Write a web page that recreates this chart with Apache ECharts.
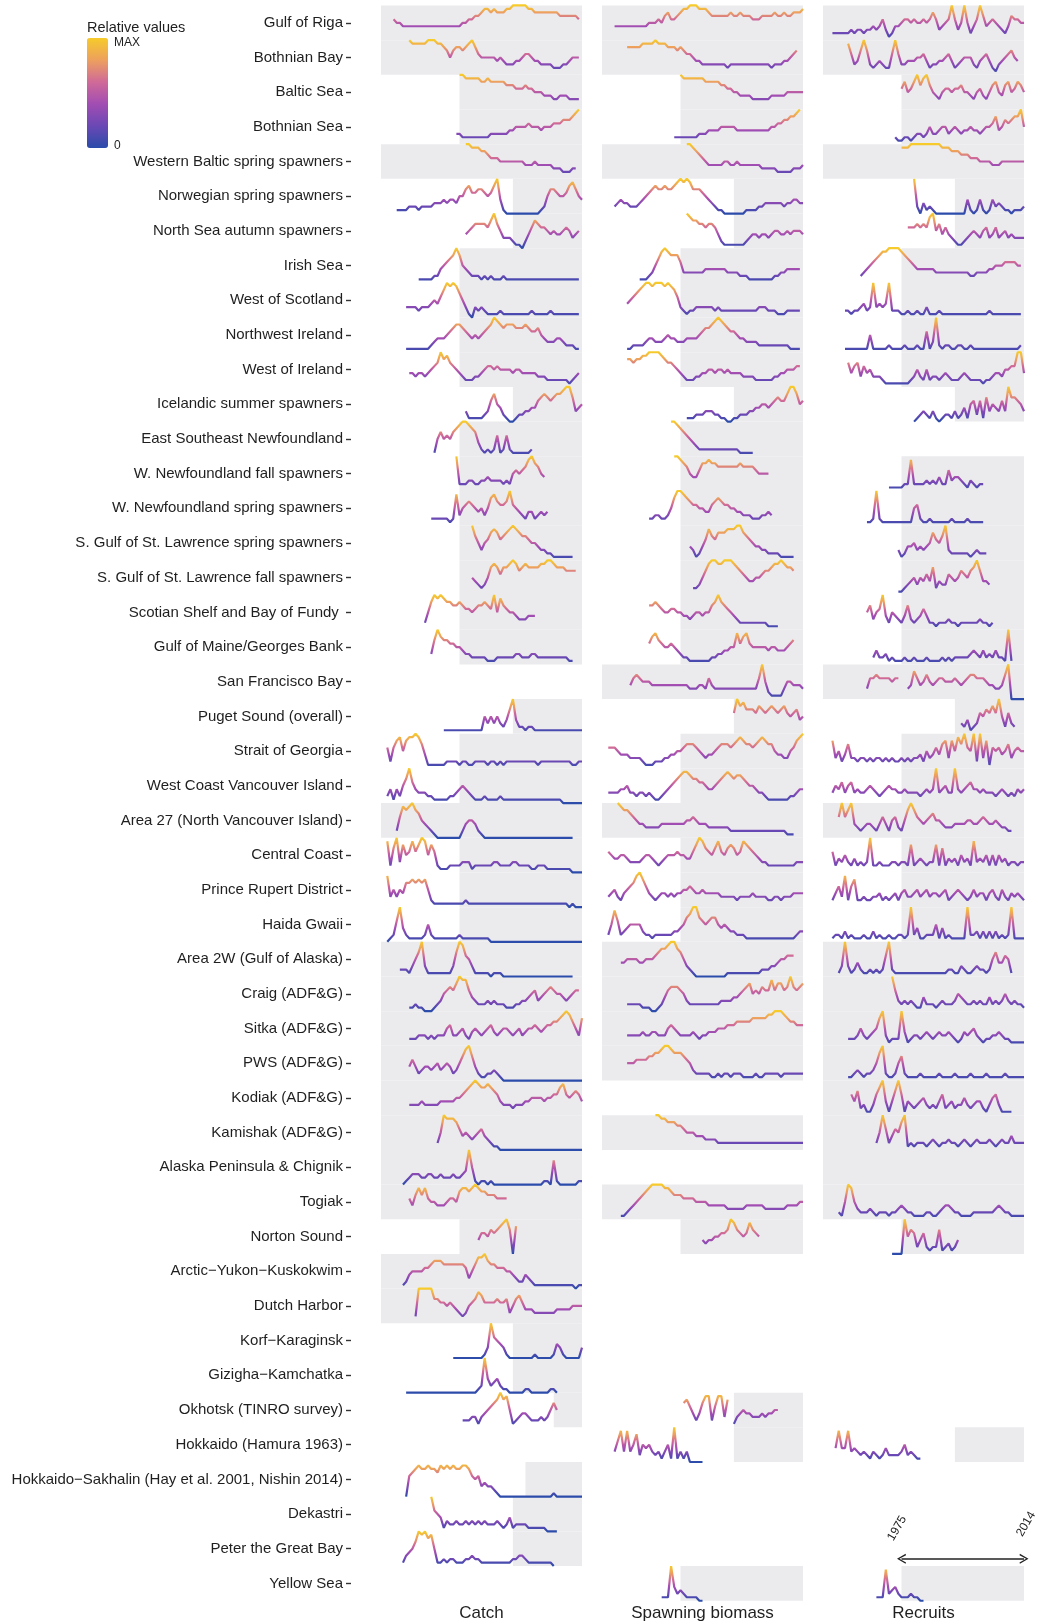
<!DOCTYPE html>
<html>
<head>
<meta charset="utf-8">
<title>Herring stocks - relative catch, spawning biomass and recruits</title>
<script src="https://cdn.jsdelivr.net/npm/echarts@6/dist/echarts.min.js"></script>
<style>
  html, body { margin: 0; padding: 0; background: #fff; }
  #chart { width: 1040px; height: 1623px; }
</style>
</head>
<body>
<div id="chart"></div>
<script>
// stock names, top to bottom
const stocks = [
  'Gulf of Riga', 'Bothnian Bay', 'Baltic Sea', 'Bothnian Sea', 'Western Baltic spring spawners',
  'Norwegian spring spawners', 'North Sea autumn spawners', 'Irish Sea', 'West of Scotland',
  'Northwest Ireland', 'West of Ireland', 'Icelandic summer spawners', 'East Southeast Newfoundland',
  'W. Newfoundland fall spawners', 'W. Newfoundland spring spawners', 'S. Gulf of St. Lawrence spring spawners',
  'S. Gulf of St. Lawrence fall spawners', 'Scotian Shelf and Bay of Fundy ', 'Gulf of Maine/Georges Bank',
  'San Francisco Bay', 'Puget Sound (overall)', 'Strait of Georgia', 'West Coast Vancouver Island',
  'Area 27 (North Vancouver Island)', 'Central Coast', 'Prince Rupert District', 'Haida Gwaii',
  'Area 2W (Gulf of Alaska)', 'Craig (ADF&G)', 'Sitka (ADF&G)', 'PWS (ADF&G)', 'Kodiak (ADF&G)',
  'Kamishak (ADF&G)', 'Alaska Peninsula & Chignik', 'Togiak', 'Norton Sound', 'Arctic\u2212Yukon\u2212Kuskokwim',
  'Dutch Harbor', 'Korf\u2212Karaginsk', 'Gizigha\u2212Kamchatka', 'Okhotsk (TINRO survey)', 'Hokkaido (Hamura 1963)',
  'Hokkaido\u2212Sakhalin (Hay et al. 2001, Nishin 2014)', 'Dekastri', 'Peter the Great Bay', 'Yellow Sea'
];
const columnTitles = ['Catch', 'Spawning biomass', 'Recruits'];
const arrowYears = [1975, 2014];

// relative values 0..10 (10 = MAX), annual, [first year, values]
const catchSeries = [
  [1954, [6,5,5,4,4,4,4,4,4,4,4,4,4,4,4,4,4,4,4,4,4,4,5,5,6,6,7,7,8,9,9,8,9,8,8,8,9,9,10,10,10,10,10,9,9,8,8,8,8,8,8,8,8,7,7,7,7,7,7,6]],
  [1959, [10,9,9,9,9,9,10,10,10,9,9,8,7,5,7,8,8,7,8,9,10,8,6,5,5,5,5,5,4,5,4,3,3,3,4,4,5,6,6,5,4,4,3,3,3,3,2,2,2,3,3,4,5,5,5]],
  [1975, [10,10,9,9,9,9,9,8,8,9,8,8,8,8,8,7,7,7,6,6,6,7,6,6,5,5,5,4,4,4,3,3,4,4,4,3,3,3,3]],
  [1974, [3,3,2,2,2,2,2,2,2,2,2,3,3,3,3,3,3,4,4,5,5,5,5,6,5,5,5,4,5,5,5,6,6,6,7,7,7,8,9,10]],
  [1977, [10,10,9,9,9,8,8,7,6,6,6,5,5,5,5,5,5,5,5,4,4,4,5,4,4,4,4,4,3,3,3,2,2,2,3,3]],
  [1955, [1,1,1,1,2,2,2,1,2,2,2,2,3,3,3,4,3,4,4,3,5,5,7,8,6,6,7,7,6,5,6,8,10,4,1,0,0,0,0,0,0,0,0,0,0,0,1,2,5,7,7,6,5,5,6,8,9,7,5,4]],
  [1977, [4,5,6,7,7,7,7,6,8,10,7,5,3,3,3,2,1,1,0,2,4,6,8,7,6,6,5,4,5,4,4,5,6,5,3,4,5]],
  [1962, [1,1,1,1,1,2,2,4,5,6,7,8,10,8,5,4,3,2,2,2,1,2,1,2,1,1,1,2,1,1,1,1,1,1,1,1,1,1,1,1,1,1,1,1,1,1,1,1,1,1,1,1]],
  [1958, [3,3,3,3,2,3,3,3,4,5,4,6,8,10,9,10,9,7,5,3,1,0,3,2,3,2,1,1,1,1,2,1,1,1,1,1,1,1,1,1,2,1,1,1,1,1,2,1,1,1,1,1,1,1,1,1]],
  [1958, [1,1,1,1,1,1,1,1,2,3,4,4,4,5,6,7,8,8,7,6,5,4,5,4,5,6,7,8,10,9,8,7,8,8,8,7,7,7,8,7,6,6,7,5,4,3,3,3,4,4,3,2,2,2,1,1]],
  [1959, [4,4,3,4,4,3,4,5,6,7,10,8,9,7,6,5,4,3,2,2,2,3,3,4,5,6,6,5,6,5,5,5,5,4,5,5,4,4,4,4,4,3,3,3,2,2,2,2,2,2,2,1,2,3,4]],
  [1977, [3,1,1,1,1,1,2,3,6,8,5,4,2,1,0,0,1,2,2,3,3,4,4,6,7,8,7,6,7,8,8,9,10,10,7,3,4,5]],
  [1967, [1,5,7,5,6,5,7,8,9,10,10,9,8,7,4,2,1,2,1,2,6,1,2,6,2,1,1,1,1,1,1,2]],
  [1974, [10,2,2,2,3,3,2,2,3,3,4,3,3,3,3,2,3,2,5,6,5,6,7,9,10,8,7,5,4]],
  [1966, [2,2,2,2,2,2,1,2,9,3,5,6,7,6,5,4,5,3,5,8,9,7,6,6,7,10,6,5,4,3,2,4,4,2,3,4,3,4]],
  [1979, [10,7,5,3,5,6,8,9,8,6,7,8,9,10,9,8,7,7,6,5,5,4,3,3,2,2,1,1,1,1,1,1,1]],
  [1979, [5,4,3,2,3,5,8,9,8,6,8,8,9,10,9,7,8,9,8,8,8,8,9,9,10,10,9,8,8,8,7,7,7,7]],
  [1964, [2,5,8,10,9,10,9,8,8,7,7,8,7,6,6,5,6,7,7,8,7,6,10,5,9,7,6,5,5,4,3,3,3,4,4,4]],
  [1966, [3,7,10,8,7,7,6,6,5,5,4,3,3,2,2,2,2,2,1,1,1,2,2,2,2,2,2,3,3,2,2,2,3,3,2,2,2,2,2,2,2,2,2,2,1,1]],
  null,
  [1970, [1,1,1,1,1,1,1,1,1,1,1,1,1,5,3,5,3,5,3,2,4,7,10,4,2,2,1,2,2,1,1,1,1,1,1,1,1,1,1,1,1,1,1,1,1]],
  [1952, [6,2,6,8,9,5,8,9,9,10,9,7,4,1,1,1,1,1,1,2,2,2,2,1,2,2,1,1,2,2,2,2,1,2,2,1,2,1,2,2,2,2,2,2,2,2,2,2,1,2,2,2,2,2,2,2,2,2,2,1,1,2,2]],
  [1952, [2,4,1,4,2,5,7,10,6,4,3,3,3,2,2,1,1,1,1,1,2,2,3,4,5,4,3,2,1,1,1,2,1,1,1,1,2,1,1,1,1,1,1,1,1,1,1,1,1,1,1,1,1,1,1,1,0,0,0,0,0,0,0]],
  [1955, [2,6,9,8,9,10,8,7,5,4,3,2,1,0,0,0,0,0,0,0,0,2,4,5,5,4,2,1,0,0,0,0,0,0,0,0,0,0,0,0,0,0,0,0,0,0,0,0,0,0,0,0,0,0,0,0,0]],
  [1952, [9,2,7,10,3,8,5,6,9,6,8,10,9,5,8,6,2,1,1,1,2,2,2,2,3,3,3,1,2,2,2,2,2,2,3,3,2,2,2,2,3,3,2,2,2,2,1,1,2,2,2,1,1,1,1,1,1,1,1,0,0,0,0]],
  [1952, [9,3,5,3,5,4,7,7,8,7,8,7,8,5,2,1,1,1,1,1,1,1,1,1,1,2,1,1,1,1,1,1,1,1,1,1,1,1,1,1,1,1,1,1,1,1,1,1,1,1,1,1,1,1,1,1,1,1,0,1,0,0,0]],
  [1952, [0,1,2,6,10,4,2,1,1,1,1,1,2,5,2,1,1,1,1,1,1,1,1,2,1,1,1,1,1,1,1,1,1,0,0,0,0,0,0,0,0,0,0,0,0,0,0,0,0,0,0,0,0,0,0,0,0,0,0,0,0,0,0]],
  [1956, [2,2,2,1,3,5,7,10,3,1,1,1,1,1,1,1,1,3,7,10,9,6,5,3,1,1,1,1,1,0,1,1,1,0,0,0,0,0,0,0,0,0,0,0,0,0,0,0,0,0,0,0,0,0,0,0]],
  [1959, [1,1,2,1,1,0,0,0,1,2,3,5,6,7,6,8,10,9,9,6,4,3,2,2,2,3,2,3,2,2,2,1,1,1,2,2,3,3,4,5,6,3,4,5,6,7,6,5,5,4,3,4,5,6,6]],
  [1959, [2,2,2,3,3,3,2,3,2,3,3,3,5,6,3,3,4,5,3,2,4,5,4,3,4,5,6,4,3,4,5,5,4,3,4,5,3,4,5,5,6,5,4,5,6,6,7,7,8,9,10,9,7,5,3,8]],
  [1959, [4,6,4,2,3,4,4,3,4,5,3,4,5,4,2,3,5,7,9,10,7,4,2,1,1,2,2,3,2,1,0,0,0,0,0,0,0,0,0,0,0,0,0,0,0,0,0,0,0,0,0,0,0,0,0,0]],
  [1959, [3,3,3,3,4,3,3,3,3,3,4,4,4,4,4,5,5,6,7,8,9,10,9,8,8,9,8,7,6,4,3,3,3,2,3,3,3,4,4,5,5,5,5,4,5,5,6,6,8,9,6,5,6,7,6,4]],
  [1968, [2,5,10,9,9,9,8,6,4,5,4,3,4,5,6,4,3,2,1,1,0,0,0,0,0,0,0,0,0,0,0,0,0,0,0,0,0,0,0,0,0,0,0,0,0,0,0]],
  [1957, [0,1,2,3,3,3,2,2,3,3,2,2,3,2,2,2,3,2,2,3,4,10,5,1,0,1,1,0,1,0,0,0,0,0,0,0,0,0,0,0,0,0,0,0,0,1,1,0,7,1,0,0,0,0,0,0,1,1]],
  [1959, [6,4,7,9,7,9,6,5,5,4,4,4,5,6,6,5,8,9,9,8,9,10,9,8,8,7,7,7,6,6,6,6]],
  [1981, [4,6,6,5,7,6,7,8,9,10,7,0,8]],
  [1957, [1,2,4,5,5,5,5,6,6,7,8,8,8,7,7,7,7,7,7,7,6,3,5,7,9,9,10,8,7,7,6,6,6,5,5,4,3,2,2,4,3,2,1,1,1,1,1,1,1,1,1,1,1,1,1,0,1,1]],
  [1961, [2,10,10,10,10,10,7,7,6,6,5,6,5,4,3,2,3,5,6,7,9,8,6,6,6,6,7,6,6,7,3,5,7,8,6,4,4,4,3,3,3,3,3,3,3,4,4,4,4,4,5,5,5,5]],
  [1973, [0,0,0,0,0,0,0,0,0,0,1,3,10,6,5,4,3,1,0,0,0,0,0,0,0,0,1,0,0,0,0,0,1,4,3,1,0,0,0,0,0,3]],
  [1958, [0,0,0,0,0,0,0,0,0,0,0,0,0,0,0,0,0,0,0,0,0,0,0,1,2,10,4,2,3,4,2,1,1,0,0,0,0,0,1,1,0,0,0,0,0,0,1,1,0]],
  [1976, [2,2,2,3,3,1,3,4,5,6,7,8,10,8,9,5,1,2,3,4,4,3,2,2,2,3,2,3,5,7,5]],
  null,
  [1958, [0,6,7,8,9,8,8,9,8,8,7,9,8,9,8,9,8,8,9,9,8,6,5,6,3,4,3,3,2,1,0,0,0,0,0,0,0,0,0,0,0,0,0,0,0,0,0,1,0,0,0,0,0,0,0,0,0]],
  [1966, [10,6,5,4,1,3,2,2,3,2,2,3,2,3,2,3,2,3,2,2,2,3,2,1,2,4,1,2,2,2,2,1,1,1,1,1,1,0,0,0,0]],
  [1957, [1,3,4,5,7,10,9,10,8,9,5,1,1,2,1,2,2,1,1,1,2,2,3,2,2,1,1,1,1,1,1,1,1,1,1,2,2,3,3,2,1,1,1,1,1,1,1,1,0]],
  null
];

const biomassSeries = [
  [1954, [4,4,4,4,4,4,4,4,4,4,4,5,5,5,6,5,7,8,6,6,7,8,9,9,10,10,10,9,9,9,8,7,7,7,7,7,7,8,7,7,8,7,7,7,6,6,6,7,7,7,7,8,7,7,8,7,7,8,8,8,9]],
  [1958, [8,8,8,8,8,9,9,9,9,10,9,9,9,8,8,8,7,8,7,6,6,5,4,4,3,3,3,3,3,3,3,3,2,3,3,3,3,3,3,3,3,3,3,3,3,3,2,3,3,3,4,4,5,6,7]],
  [1975, [10,9,9,9,9,9,9,9,8,8,8,8,8,7,7,6,6,5,5,4,4,4,4,3,3,3,3,3,3,4,4,4,4,4,5,5,5,5,5,5]],
  [1973, [2,2,2,2,2,2,2,2,3,3,3,4,4,4,4,5,5,5,5,5,4,4,4,4,4,4,4,4,4,4,4,5,5,6,6,7,7,8,8,9,10]],
  [1977, [10,10,9,8,7,6,5,4,4,4,4,4,5,5,4,4,5,4,4,4,4,4,4,4,3,3,3,3,3,2,2,2,2,2,3,3,3,4]],
  [1954, [2,3,4,3,3,2,2,2,3,4,5,6,7,8,7,7,8,7,7,8,9,10,9,10,9,7,7,7,6,5,4,3,2,1,1,0,0,0,0,0,0,0,1,1,1,1,2,2,3,3,3,3,3,3,2,3,3,4,4,3,3]],
  [1977, [10,9,8,8,7,7,6,7,7,6,4,2,1,1,1,1,1,1,1,2,3,4,4,3,4,4,3,4,5,5,4,4,5,4,5,5,5,4]],
  [1962, [1,1,1,2,3,5,7,9,10,9,8,8,8,6,3,3,3,3,3,3,3,4,4,4,4,4,4,4,3,3,3,3,2,2,2,1,1,1,1,1,1,1,1,2,2,3,3,4,4,4,4,4]],
  [1958, [4,5,6,7,8,9,10,10,9,10,10,10,9,10,9,8,6,3,2,1,2,2,3,3,3,3,3,3,2,3,2,2,2,2,2,2,2,2,2,2,2,2,3,3,3,2,2,2,1,1,1,2,2,2,2,2]],
  [1958, [1,1,2,2,2,2,3,4,4,3,3,3,4,5,4,4,3,3,3,4,4,4,4,5,6,7,7,8,9,10,9,8,7,6,6,5,4,4,3,3,3,3,2,2,2,2,2,2,2,2,2,2,1,1,1,1]],
  [1958, [8,8,7,8,8,9,9,10,10,10,10,9,8,7,7,6,5,4,3,2,2,2,3,3,4,4,5,5,4,5,5,4,5,4,4,4,4,3,3,3,3,2,2,2,2,2,2,3,3,4,4,5,5,5,6,6]],
  [1977, [1,1,1,2,2,2,3,3,3,2,2,1,1,0,0,1,1,2,2,2,3,3,4,4,5,5,4,5,6,7,6,6,8,10,10,8,5,6]],
  [1972, [10,10,9,8,7,6,5,4,3,2,2,2,2,2,2,2,2,2,2,2,2,2,1,1,1,1,1]],
  [1973, [10,10,9,8,7,5,4,4,6,8,8,9,8,8,7,7,7,7,7,7,7,8,7,7,7,7,6,5,5,5,5]],
  [1965, [2,2,3,3,2,2,3,5,8,10,10,9,8,7,6,6,5,5,4,4,6,7,8,7,6,6,5,5,4,4,3,3,3,2,2,2,3,3,4,3]],
  [1978, [4,3,1,2,4,6,9,7,6,8,8,8,9,9,9,10,10,8,7,6,5,4,4,3,3,2,2,2,2,1,1,1,1,1]],
  [1979, [2,2,3,5,7,9,10,10,9,9,10,10,10,9,8,7,6,5,4,4,5,5,6,7,7,8,9,9,10,9,8,8,7]],
  [1965, [7,7,8,7,6,5,5,6,6,5,5,4,4,3,4,5,5,4,5,5,7,8,10,8,7,6,5,4,3,2,2,2,2,2,2,2,2,2,1,1,1,1]],
  [1965, [6,8,9,7,6,5,5,6,5,4,3,2,2,1,1,1,1,1,1,1,2,2,3,3,4,4,5,5,9,6,8,9,6,5,5,5,5,5,4,5,5,4,4,4,5,6,7]],
  [1959, [4,6,7,6,5,5,5,4,4,4,4,4,4,4,4,4,4,4,4,3,3,3,4,4,3,6,4,3,3,3,3,3,3,3,3,3,3,3,3,3,3,6,10,5,2,1,1,1,1,3,5,5,4,4,4,3]],
  [1992, [6,10,8,9,7,7,7,6,8,7,6,7,8,7,6,7,8,6,5,6,7,4,5]],
  [1952, [6,6,6,5,4,4,4,3,3,3,3,2,1,1,1,2,2,2,3,3,4,4,5,5,6,7,7,7,6,5,4,3,4,4,5,6,7,7,7,6,7,8,9,8,7,7,6,7,8,9,8,7,7,5,4,4,3,3,5,6,8,9,10]],
  [1952, [3,3,3,3,4,4,5,3,3,2,3,3,2,3,2,1,1,2,3,4,5,6,7,8,9,9,8,7,7,6,6,5,4,4,5,6,7,8,9,8,7,8,8,7,6,5,5,4,3,3,2,1,1,1,1,1,1,1,2,2,3,4,4]],
  [1955, [10,9,8,8,7,6,5,4,4,3,3,3,3,3,4,4,4,4,4,4,4,4,5,5,6,5,4,4,4,3,3,3,3,3,3,3,2,2,2,2,2,2,2,2,2,2,2,2,2,2,2,2,2,2,1,1,1]],
  [1952, [6,5,4,4,5,5,4,3,3,3,3,4,5,5,4,3,2,3,4,5,5,5,6,5,5,4,4,6,8,10,9,7,6,5,7,9,6,5,7,8,7,5,6,9,8,7,6,5,4,3,3,2,2,2,2,2,2,2,2,2,3,3,3]],
  [1952, [3,4,5,3,2,4,5,6,7,9,10,8,6,4,3,2,3,4,4,3,4,3,4,4,5,5,6,5,4,4,5,4,4,4,4,4,3,3,3,3,3,2,3,3,3,3,4,3,3,3,3,2,2,3,3,2,3,3,3,4,4,4,4]],
  [1952, [2,5,9,6,2,3,4,5,5,5,5,3,2,2,1,2,2,2,2,2,2,3,3,4,5,7,8,10,10,7,6,5,6,7,7,5,4,5,4,3,3,2,2,2,1,1,1,1,1,1,1,1,1,1,1,1,1,1,1,1,2,3,3]],
  [1956, [4,4,5,5,5,5,4,4,5,5,5,6,7,8,8,9,10,10,8,7,5,3,2,1,0,0,0,0,0,0,0,0,0,0,1,1,1,1,1,1,1,1,1,1,1,2,2,2,3,3,4,5,5,6,6,6]],
  [1958, [2,2,2,2,2,1,1,1,0,0,1,2,4,6,7,7,7,6,5,3,2,2,2,2,2,2,2,2,2,2,3,3,3,3,4,4,5,6,7,8,5,6,5,7,6,6,9,6,8,8,6,7,10,7,6,7,8]],
  [1958, [3,3,3,3,3,4,3,3,4,4,3,3,3,5,6,5,4,3,3,3,3,4,3,2,3,3,4,4,4,5,5,5,6,6,6,7,7,7,7,7,8,8,8,8,8,9,9,10,10,10,9,8,7,7,6,6,6]],
  [1958, [5,5,5,6,6,6,6,7,7,8,8,9,10,10,9,8,8,8,7,6,5,3,2,2,2,2,2,1,1,2,1,2,2,1,2,2,2,1,1,1,1,2,1,1,2,2,2,2,2,1,2,2,2,2,2,2,2]],
  null,
  [1967, [10,10,9,9,8,8,8,7,7,6,5,5,5,4,4,4,3,3,3,3,2,2,2,2,2,2,2,2,2,2,2,2,2,2,2,2,2,2,2,2,2,2,2,2,2,2,2,2]],
  null,
  [1956, [1,1,2,3,4,5,6,7,8,9,10,10,10,10,9,9,8,7,7,7,6,6,6,6,5,5,5,5,4,4,4,4,4,4,3,3,3,3,3,3,4,4,4,4,4,4,3,3,3,3,3,3,3,4,4,4,4,5,5]],
  [1982, [4,3,4,4,5,5,6,6,7,10,9,7,6,5,6,9,7,6,5]],
  null, null, null, null,
  [1976, [7,8,6,4,2,4,7,9,9,2,6,9,9,3,8,null,1,3,4,5,4,4,3,3,3,4,3,4,4,5,5]],
  [1954, [3,6,9,3,9,3,5,8,2,5,4,5,3,2,3,1,3,5,1,10,1,3,1,3,0,0,0,0,0]],
  null, null, null,
  [1969, [1,1,1,10,4,2,3,2,1,1,1,1,0,0]]
];

const recruitSeries = [
  [1953, [2,2,2,2,2,2,3,2,3,3,2,3,3,4,3,4,6,3,1,2,4,4,5,6,6,5,6,5,5,6,5,6,8,6,3,4,5,6,10,6,3,5,10,5,2,4,6,10,7,4,5,6,5,4,3,2,4,7,6,6,5,5]],
  [1958, [9,6,3,4,7,10,7,3,2,3,4,3,2,2,6,10,6,3,3,4,4,4,5,5,6,4,2,3,3,4,4,5,6,4,2,3,4,5,5,5,3,2,4,5,6,4,2,1,3,4,5,6,7,5,4]],
  [1975, [6,8,5,6,8,10,7,9,10,7,5,4,3,5,6,6,5,6,6,7,5,5,4,3,5,6,4,3,5,7,8,5,4,7,8,5,6,8,7,5]],
  [1973, [2,1,1,2,2,1,2,3,3,2,3,5,3,3,4,5,5,3,4,5,4,3,4,4,5,4,4,3,4,5,5,6,8,4,5,7,6,7,8,8,10,5]],
  [1975, [9,9,9,10,10,10,10,10,10,10,10,10,10,9,9,9,8,8,8,7,7,7,6,6,6,5,5,5,5,4,4,4,5,5,5,5,5,5,5,5]],
  [1979, [10,2,0,3,1,2,1,0,0,0,0,0,0,0,0,0,0,4,1,0,1,4,1,0,1,4,2,3,2,1,1,0,1,1,1,2]],
  [1977, [6,6,6,7,6,7,6,9,10,5,7,4,6,4,3,2,1,1,2,3,4,5,4,3,5,6,3,4,6,3,4,5,3,4,3,3,3,3]],
  [1962, [2,3,4,5,6,7,8,9,9,10,10,10,10,9,8,7,6,5,4,4,4,4,4,4,3,3,3,3,3,3,3,3,3,3,3,2,2,3,3,3,3,4,4,5,5,5,6,6,6,6,5,5]],
  [1957, [2,2,1,2,2,3,4,2,3,10,3,4,3,4,10,2,2,2,1,1,2,1,1,2,1,1,3,1,1,1,2,1,1,1,1,1,1,1,1,1,1,1,1,1,1,1,2,1,1,1,1,1,1,1,1,1,1]],
  [1957, [1,1,1,1,1,1,1,1,5,1,1,1,1,1,2,1,1,1,1,2,1,1,1,2,1,1,6,1,3,10,2,1,2,2,1,1,2,2,1,1,2,1,1,1,1,1,1,1,1,1,1,1,1,1,1,1,2]],
  [1958, [7,4,6,7,3,6,4,5,3,3,3,2,1,1,1,1,1,1,1,1,2,3,5,3,2,5,2,3,3,2,3,4,3,2,2,2,3,4,3,2,2,2,2,1,2,2,3,4,4,3,5,5,6,6,10,10,4]],
  [1979, [0,1,2,3,2,1,3,1,0,1,2,2,1,3,1,2,4,1,5,6,2,6,1,7,3,5,4,3,6,3,10,7,7,6,5,3]],
  null,
  [1971, [1,1,1,1,1,2,2,9,2,2,2,2,3,2,3,2,4,2,2,6,3,4,4,3,2,1,3,2,1,2,2]],
  [1964, [1,1,2,10,2,1,1,1,1,1,1,1,1,1,1,5,6,2,1,1,2,1,1,1,1,1,1,2,1,1,1,1,2,1,1,1,1,1]],
  [1974, [3,1,2,4,4,5,3,4,3,4,5,8,6,5,7,10,3,2,2,2,2,2,2,1,2,3,2,2,2]],
  [1974, [1,1,2,3,4,5,3,5,4,6,4,8,2,4,3,3,6,5,4,5,7,6,5,7,8,10,7,4,4,3]],
  [1964, [5,7,3,5,6,10,4,2,5,4,3,2,4,7,3,2,3,4,6,4,2,2,1,2,2,2,3,2,2,1,2,2,2,2,2,2,3,2,2,1,2]],
  [1966, [2,4,2,2,3,1,2,1,1,1,2,1,1,2,1,1,1,2,1,1,1,1,2,1,2,1,2,2,2,2,2,3,4,3,2,4,2,3,2,4,2,2,1,10,1]],
  [1964, [3,6,6,7,6,6,6,6,5,6,6,null,null,3,4,8,6,4,5,7,5,4,5,6,6,5,5,5,6,5,4,5,6,7,7,6,6,6,5,4,4,3,3,4,7,10,0,0,0,0,0]],
  [1994, [3,2,4,1,2,3,6,5,7,6,8,6,10,5,2,6,3,2]],
  [1953, [8,3,5,2,4,7,3,3,2,3,3,2,3,2,3,3,2,3,2,3,2,2,3,2,3,2,3,3,4,2,5,3,4,6,4,7,8,3,8,5,9,7,10,6,5,10,2,10,3,8,1,6,5,6,4,5,7,3,5,6,5,5]],
  [1953, [3,5,4,6,3,5,6,3,4,3,3,4,5,4,3,2,3,4,5,4,4,3,3,4,3,3,3,3,2,3,4,3,4,10,3,4,5,3,3,10,4,3,4,5,6,4,4,3,4,3,3,3,2,3,4,3,2,3,2,4,3,4]],
  [1955, [6,10,6,8,10,4,3,2,3,4,4,3,2,4,6,4,2,5,6,3,2,5,8,10,8,6,5,4,5,6,7,5,5,4,3,3,3,4,4,4,4,5,5,4,4,5,6,5,4,4,5,4,3,3,2,2]],
  [1953, [6,2,4,3,5,3,2,4,2,3,2,3,10,2,2,3,2,2,2,3,3,2,3,3,2,8,2,3,4,3,2,3,3,8,2,7,2,4,3,4,2,5,3,4,2,9,3,4,3,5,2,5,2,5,3,4,2,3,3,2,3,3]],
  [1953, [2,4,6,3,9,2,6,8,2,2,3,2,2,3,3,4,2,3,2,3,4,2,4,5,3,3,4,5,3,4,5,3,4,4,3,4,5,2,3,4,5,4,3,2,3,5,3,4,4,2,4,5,3,2,5,3,2,4,3,4,3,2]],
  [1953, [1,2,2,1,3,1,2,1,1,1,2,1,1,3,1,2,1,1,2,1,1,2,2,1,2,10,2,4,1,1,2,2,2,5,1,4,1,2,1,1,1,1,1,10,2,2,3,1,3,1,3,1,3,1,2,1,2,10,1,1,1,1]],
  [1955, [1,3,10,3,1,2,4,2,1,1,2,1,2,1,2,6,10,2,1,1,1,1,1,1,1,1,1,1,1,1,1,1,1,1,1,2,2,1,1,3,2,1,1,2,3,2,2,1,2,5,7,4,4,6,5,1]],
  [1972, [10,6,3,2,3,2,3,2,1,1,4,2,2,2,1,2,3,2,2,2,3,5,4,3,2,2,3,2,3,2,2,4,2,3,2,3,5,3,2,3,2,2,1]],
  [1958, [2,2,2,3,5,3,2,3,4,5,8,10,3,1,2,2,2,10,4,1,2,3,3,2,3,4,3,2,3,4,3,3,4,3,2,1,2,4,3,4,5,3,2,1,2,2,3,3,4,3,2,2,1,1,1,1,1]],
  [1958, [1,1,2,3,2,1,2,2,3,5,8,10,2,1,1,2,5,7,2,1,1,1,1,2,1,1,1,1,1,2,1,1,1,1,2,1,1,1,1,2,1,1,1,1,2,1,1,1,1,1,2,1,1,1,1,1,1]],
  [1959, [6,4,7,2,3,1,1,3,6,8,10,4,1,4,7,10,6,1,4,3,2,3,4,5,3,2,3,2,4,6,2,3,4,2,3,3,5,3,2,3,4,4,2,1,3,5,6,3,1,1,1,1]],
  [1967, [2,5,10,6,2,4,6,5,8,10,1,2,1,2,2,2,1,2,3,2,1,2,2,3,2,2,1,2,3,2,1,2,3,2,2,2,3,2,1,2,3,2,2,4,2,2,2,2]],
  null,
  [1955, [2,1,5,10,9,5,3,2,2,2,3,2,1,2,2,2,1,2,2,3,4,3,2,2,1,1,1,1,2,2,1,1,2,3,4,4,3,2,2,1,1,1,1,2,2,2,2,2,2,2,3,4,3,2,2,1,1,1,1,1]],
  [1972, [0,0,0,0,10,5,7,6,2,4,6,2,1,2,2,7,1,2,3,1,2,4]],
  null, null, null, null, null,
  [1954, [4,9,4,4,9,3,4,3,2,3,2,1,3,2,1,2,4,2,2,2,2,3,5,2,3,2,1,1]],
  null, null, null,
  [1967, [1,1,1,9,2,3,4,2,1,1,1,2,1,1,0,0]]
];

// grey background year ranges behind each panel
const FULL = [1950, 2014], FROM75 = [1975, 2014], FROM92 = [1992, 2014];
const catchShade = [FULL, FULL, FROM75, FROM75, FULL, FROM92, FROM92, FROM75, FROM75, FROM75, FROM75, FROM92,
  FROM75, FROM75, FROM75, FROM75, FROM75, FROM75, FROM75, null, FROM92, FROM75, FROM75, FULL, FROM75, FROM75, FROM75,
  FULL, FULL, FULL, FULL, FULL, FULL, FULL, FULL, FROM75, FULL, FULL, FROM92, FROM92, [2005, 2014], null,
  [1996, 2014], FROM92, FROM92, null];
const biomassShade = [FULL, FULL, FROM75, FROM75, FULL, FROM92, FROM92, FROM75, FROM75, FROM75, FROM75, FROM92,
  FROM75, FROM75, FROM75, FROM75, FROM75, FROM75, FROM75, FULL, FROM92, FROM75, FROM75, FULL, FROM75, FROM75, FROM75,
  FULL, FULL, FULL, FULL, null, FULL, null, FULL, FROM75, null, null, null, null, FROM92, FROM92,
  null, null, null, FROM75];
const recruitShade = [FULL, FULL, FROM75, FROM75, FULL, FROM92, FROM92, FROM75, FROM75, FROM75, FROM75, FROM92,
  null, FROM75, FROM75, FROM75, FROM75, FROM75, FROM75, FULL, FROM92, FROM75, FROM75, FULL, FROM75, FROM75, FROM75,
  FULL, FULL, FULL, FULL, FULL, FULL, FULL, FULL, FROM75, null, null, null, null, null, FROM92,
  null, null, null, FROM75];

// layout
const FONT = 'Liberation Sans, Arial, Helvetica, sans-serif';
const ROW0 = 22.8, ROW_H = 34.68;
const PANEL_LEFT = [381, 602, 823], PANEL_W = 201;
const columns = [
  { data: catchSeries, shade: catchShade },
  { data: biomassSeries, shade: biomassShade },
  { data: recruitSeries, shade: recruitShade }
];

const grid = [], xAxis = [], yAxis = [], series = [], lineIdx = [];

// stock names on a category axis
grid.push({ left: 351, top: ROW0 - ROW_H / 2, width: 1, height: ROW_H * stocks.length });
xAxis.push({ gridIndex: 0, type: 'value', show: false });
yAxis.push({
  gridIndex: 0, type: 'category', inverse: true, data: stocks,
  axisLine: { show: true, lineStyle: { color: 'rgba(0,0,0,0)' } },
  axisTick: { show: true, alignWithLabel: true, length: 5, lineStyle: { color: '#333', width: 1.4 } },
  axisLabel: { interval: 0, margin: 8, fontSize: 15, color: '#1f1f1f', fontFamily: FONT }
});

columns.forEach((col, c) => {
  stocks.forEach((name, r) => {
    const gi = grid.length;
    const last = r === stocks.length - 1;
    grid.push({ left: PANEL_LEFT[c], top: ROW0 + r * ROW_H - ROW_H / 2, width: PANEL_W, height: ROW_H });
    xAxis.push({
      gridIndex: gi, type: 'value', min: 1950, max: 2014, show: last,
      name: last ? columnTitles[c] : '', nameLocation: 'middle', nameGap: 4,
      nameTextStyle: { fontSize: 17, color: '#1f1f1f', fontFamily: FONT },
      axisLine: { show: false }, axisTick: { show: false }, axisLabel: { show: false }, splitLine: { show: false }
    });
    yAxis.push({ gridIndex: gi, type: 'value', min: 0, max: 10, show: false, splitLine: { show: false } });

    const shade = col.shade[r];
    if (shade) {
      series.push({
        type: 'line', xAxisIndex: gi, yAxisIndex: gi, data: [], silent: true, z: 1,
        markArea: { silent: true, itemStyle: { color: '#ebebee' }, data: [[{ xAxis: shade[0] }, { xAxis: shade[1] }]] }
      });
    }
    const s = col.data[r];
    if (s) {
      lineIdx.push(series.length);
      series.push({
        type: 'line', xAxisIndex: gi, yAxisIndex: gi, silent: true, z: 3, clip: false,
        showSymbol: false, symbol: 'none', connectNulls: false,
        lineStyle: { width: 2.2 },
        data: s[1].map((v, k) => [s[0] + k, v])
      });
    }
  });
});

// 1975 - 2014 arrow under the recruits column
const ai = grid.length;
grid.push({ left: PANEL_LEFT[2], top: 1490, width: PANEL_W, height: 80 });
xAxis.push({ gridIndex: ai, type: 'value', min: 1950, max: 2014, show: false });
yAxis.push({ gridIndex: ai, type: 'value', min: 0, max: 1, show: false });
const chevron = 'path://M0,12 L6,0 L12,12 L10.4,12.6 L6,3.4 L1.6,12.6 Z';
series.push({
  type: 'line', xAxisIndex: ai, yAxisIndex: ai, data: [], silent: true,
  markLine: {
    silent: true, symbol: [chevron, chevron], symbolSize: [10, 9],
    itemStyle: { color: '#222' },
    lineStyle: { color: '#222', width: 1.6, type: 'solid' }, label: { show: false },
    data: [[{ coord: [arrowYears[0], 0.14] }, { coord: [arrowYears[1], 0.14] }]]
  },
  markPoint: {
    symbol: 'circle', symbolSize: 0,
    label: { show: true, rotate: 60, fontSize: 12, color: '#222', fontFamily: FONT, formatter: p => p.name },
    data: [
      { name: String(arrowYears[0]), coord: [arrowYears[0] - 1.4, 0.52] },
      { name: String(arrowYears[1]), coord: [arrowYears[1], 0.53], label: { offset: [4, 0] } }
    ]
  }
});

const chart = echarts.init(document.getElementById('chart'));
chart.setOption({
  animation: false,
  backgroundColor: '#fff',
  textStyle: { fontFamily: FONT },
  grid, xAxis, yAxis, series,
  visualMap: {
    type: 'continuous', min: 0, max: 10, dimension: 1, seriesIndex: lineIdx,
    left: 72, top: 23, itemWidth: 21, itemHeight: 110, calculable: false,
    inRange: { color: ['#2a4caa', '#6a48b4', '#a24db3', '#d06a98', '#eda05e', '#f6cb2a'] }
  },
  graphic: [
    { type: 'text', left: 87, top: 20, style: { text: 'Relative values', fontSize: 14.5, fill: '#1f1f1f', fontFamily: FONT } },
    { type: 'text', left: 114, top: 37, style: { text: 'MAX', fontSize: 12, fill: '#1f1f1f', fontFamily: FONT } },
    { type: 'text', left: 114, top: 140, style: { text: '0', fontSize: 12, fill: '#1f1f1f', fontFamily: FONT } }
  ]
});
</script>
</body>
</html>
